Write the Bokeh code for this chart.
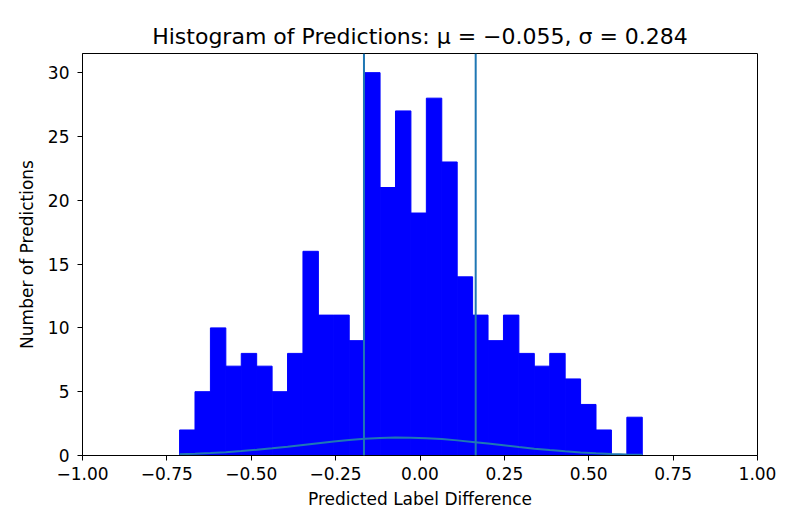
from bokeh.plotting import figure
from bokeh.models import Range1d, FixedTicker, CustomJSTickFormatter, Span, ColumnDataSource
from bokeh.embed import file_html
from bokeh.resources import INLINE

# ---- data ----
counts = [2, 5, 10, 7, 8, 7, 5, 8, 16, 11, 11, 9, 30, 21, 27, 19, 28, 23, 14,
          11, 9, 11, 8, 7, 8, 6, 4, 2, 0, 3]
bin_start = -0.7124
bin_width = 0.0457
curve_y = [0.097, 0.138, 0.193, 0.262, 0.348, 0.449, 0.565, 0.693, 0.829, 0.965,
           1.096, 1.211, 1.305, 1.371, 1.402, 1.398, 1.358, 1.285, 1.185, 1.065,
           0.933, 0.796, 0.661, 0.536, 0.423, 0.326, 0.244, 0.178, 0.127, 0.088, 0.059]
vlines = [-0.166, 0.165]
x_ticks = [-1.0, -0.75, -0.5, -0.25, 0.0, 0.25, 0.5, 0.75, 1.0]
y_ticks = [0, 5, 10, 15, 20, 25, 30]
title_text = "Histogram of Predictions: \u03bc = \u22120.055, \u03c3 = 0.284"

edges = [bin_start + i * bin_width for i in range(len(counts) + 1)]
bars = ColumnDataSource(dict(left=edges[:-1], right=edges[1:],
                             top=counts, bottom=[0] * len(counts)))
curve = ColumnDataSource(dict(x=edges, y=curve_y))

FONT = "DejaVu Sans"

p = figure(width=781, height=516, output_backend="svg", toolbar_location=None,
           x_range=Range1d(-1, 1), y_range=Range1d(0, 31.5),
           min_border_left=82, min_border_right=24, min_border_top=53,
           min_border_bottom=61)

p.quad(left="left", right="right", top="top", bottom="bottom", source=bars,
       fill_color="#0000ff", line_color="#0000ff", line_width=1)
for v in vlines:
    p.add_layout(Span(location=v, dimension="height", line_color="#1f77b4",
                      line_width=2))
p.line("x", "y", source=curve, line_color="#1f77b4", line_width=2)

p.title.text = title_text
p.title.align = "center"
p.title.text_font = FONT
p.title.text_font_size = "22px"
p.title.text_font_style = "normal"
p.title.text_color = "black"
p.title.standoff = 10

p.xgrid.visible = False
p.ygrid.visible = False
p.outline_line_color = "black"
p.outline_line_width = 1
p.outline_line_alpha = 1

p.xaxis.ticker = FixedTicker(ticks=x_ticks)
p.yaxis.ticker = FixedTicker(ticks=y_ticks)
p.xaxis.formatter = CustomJSTickFormatter(code="return tick.toFixed(2).replace('-', '\u2212');")
p.yaxis.formatter = CustomJSTickFormatter(code="return tick.toFixed(0);")
p.xaxis.axis_label = "Predicted Label Difference"
p.yaxis.axis_label = "Number of Predictions"

for ax in (p.xaxis[0], p.yaxis[0]):
    ax.axis_line_color = "black"
    ax.axis_line_width = 1
    ax.major_tick_line_color = "black"
    ax.major_tick_in = 0
    ax.major_tick_out = 5
    ax.minor_tick_line_color = None
    ax.major_label_text_font = FONT
    ax.major_label_text_font_size = "17px"
    ax.major_label_text_color = "black"
    ax.axis_label_text_font = FONT
    ax.axis_label_text_font_size = "17px"
    ax.axis_label_text_font_style = "normal"
    ax.axis_label_text_color = "black"

p.xaxis.major_label_standoff = 6
p.xaxis.axis_label_standoff = 6
p.yaxis.major_label_standoff = 8
p.yaxis.axis_label_standoff = 8

open("out.html", "w").write(file_html(p, INLINE))
